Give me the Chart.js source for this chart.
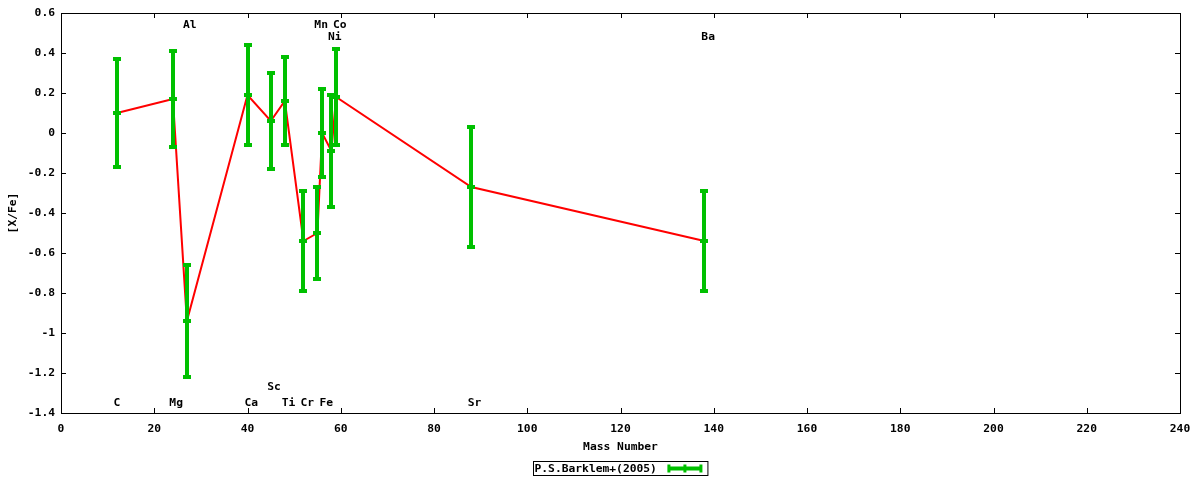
<!DOCTYPE html>
<html>
<head>
<meta charset="utf-8">
<script src="https://cdn.jsdelivr.net/npm/chart.js@4.4.1/dist/chart.umd.min.js"></script>
<style>
  html, body { margin: 0; padding: 0; background: #fff; }
  #wrap { width: 1200px; height: 480px; }
</style>
</head>
<body>
<div id="wrap"><canvas id="abundChart"></canvas></div>
<script>
// [X/Fe] vs mass number, P.S.Barklem+(2005)
const elements = ['C', 'Mg', 'Al', 'Ca', 'Sc', 'Ti', 'Cr', 'Mn', 'Fe', 'Ni', 'Co', 'Sr', 'Ba'];
const massNumbers = [12, 24, 27, 40, 45, 48, 52, 55, 56, 58, 59, 88, 138];
const xFe = [0.10, 0.17, -0.94, 0.19, 0.06, 0.16, -0.54, -0.50, 0.00, -0.09, 0.18, -0.27, -0.54];
const xFeErr = [0.27, 0.24, 0.28, 0.25, 0.24, 0.22, 0.25, 0.23, 0.22, 0.28, 0.24, 0.30, 0.25];
// where each element name is written (data units)
const nameX = [12.0, 24.7, 27.6, 40.8, 45.7, 48.8, 52.8, 55.8, 56.9, 58.7, 59.8, 88.7, 138.8];
const nameY = [-1.35, -1.35, 0.54, -1.35, -1.27, -1.35, -1.35, 0.54, -1.35, 0.48, 0.54, -1.35, 0.48];

const xTicks = [0, 20, 40, 60, 80, 100, 120, 140, 160, 180, 200, 220, 240];
const yTicks = [0.6, 0.4, 0.2, 0, -0.2, -0.4, -0.6, -0.8, -1, -1.2, -1.4];

const seriesName = 'P.S.Barklem+(2005)';
const GREEN = '#00c000';
const FONT = "bold 11.3px 'DejaVu Sans Mono', monospace";

Chart.defaults.font.family = "'DejaVu Sans Mono', monospace";
Chart.defaults.font.size = 11.3;
Chart.defaults.font.weight = 'bold';
Chart.defaults.color = '#000';

const points = massNumbers.map((m, i) => ({ x: m, y: xFe[i] }));

// frame with inward ticks on all four sides
const framePlugin = {
  id: 'frame',
  beforeDatasetsDraw(chart) {
    const { ctx, chartArea: a, scales } = chart;
    ctx.save();
    ctx.strokeStyle = '#000';
    ctx.lineWidth = 1;
    ctx.beginPath();
    xTicks.forEach(v => {
      const px = Math.round(scales.x.getPixelForValue(v)) + 0.5;
      ctx.moveTo(px, a.bottom); ctx.lineTo(px, a.bottom - 5);
      ctx.moveTo(px, a.top); ctx.lineTo(px, a.top + 5);
    });
    yTicks.forEach(v => {
      const py = Math.round(scales.y.getPixelForValue(v)) + 0.5;
      ctx.moveTo(a.left, py); ctx.lineTo(a.left + 5, py);
      ctx.moveTo(a.right, py); ctx.lineTo(a.right - 5, py);
    });
    ctx.stroke();
    ctx.strokeRect(a.left + 0.5, a.top + 0.5, a.right - a.left, a.bottom - a.top);
    ctx.restore();
  }
};

// vertical error bars + element names + key
const errorBarPlugin = {
  id: 'errorBars',
  afterDatasetsDraw(chart) {
    const { ctx, scales } = chart;
    const xs = scales.x, ys = scales.y;
    ctx.save();
    ctx.strokeStyle = GREEN;
    ctx.lineWidth = 4;
    ctx.lineCap = 'butt';
    massNumbers.forEach((m, i) => {
      const px = Math.round(xs.getPixelForValue(m));
      const yc = ys.getPixelForValue(xFe[i]);
      const yt = ys.getPixelForValue(xFe[i] + xFeErr[i]);
      const yb = ys.getPixelForValue(xFe[i] - xFeErr[i]);
      ctx.beginPath();
      ctx.moveTo(px, yt); ctx.lineTo(px, yb);
      [yt, yc, yb].forEach(y => { ctx.moveTo(px - 4, y); ctx.lineTo(px + 4, y); });
      ctx.stroke();
    });

    ctx.font = FONT;
    ctx.fillStyle = '#000';
    ctx.textAlign = 'center';
    ctx.textBaseline = 'middle';
    elements.forEach((el, i) => {
      ctx.fillText(el, xs.getPixelForValue(nameX[i]), ys.getPixelForValue(nameY[i]));
    });

    // key box under the axis title
    const cx = (chart.chartArea.left + chart.chartArea.right) / 2;
    const tw = ctx.measureText(seriesName).width;
    const boxW = tw + 52;
    const bx = Math.round(cx - boxW / 2) + 0.5;
    const by = 461.5;
    ctx.strokeStyle = '#000';
    ctx.lineWidth = 1;
    ctx.strokeRect(bx, by, boxW, 14);
    ctx.textAlign = 'left';
    ctx.fillText(seriesName, bx + 1, by + 7.5);
    const sx0 = bx + boxW - 40, sx1 = bx + boxW - 6, sy = by + 7;
    ctx.strokeStyle = GREEN;
    ctx.lineWidth = 4;
    ctx.beginPath();
    ctx.moveTo(sx0, sy); ctx.lineTo(sx1, sy);
    ctx.stroke();
    ctx.lineWidth = 3;
    ctx.beginPath();
    [sx0 + 1, (sx0 + sx1) / 2, sx1 - 1].forEach(x => { ctx.moveTo(x, sy - 4); ctx.lineTo(x, sy + 4); });
    ctx.stroke();
    ctx.restore();
  }
};

new Chart(document.getElementById('abundChart'), {
  type: 'line',
  data: {
    datasets: [{
      label: seriesName,
      data: points,
      borderColor: '#ff0000',
      borderWidth: 2,
      pointRadius: 0,
      tension: 0,
      fill: false
    }]
  },
  options: {
    responsive: true,
    maintainAspectRatio: false,
    animation: false,
    layout: { padding: { left: 0, right: 20, top: 13, bottom: 0 } },
    plugins: {
      legend: { display: false },
      tooltip: { enabled: false }
    },
    scales: {
      x: {
        type: 'linear',
        min: 0,
        max: 240,
        afterBuildTicks: s => { s.ticks = xTicks.map(v => ({ value: v })); },
        afterFit: s => { s.height = 67; },
        grid: { display: false, drawTicks: false },
        border: { display: false },
        ticks: { padding: 9, maxRotation: 0, autoSkip: false },
        title: { display: true, text: 'Mass Number', padding: { top: 0, bottom: 26 } }
      },
      y: {
        min: -1.4,
        max: 0.6,
        afterBuildTicks: s => { s.ticks = yTicks.map(v => ({ value: v })); },
        afterFit: s => { s.width = 61; },
        grid: { display: false, drawTicks: false },
        border: { display: false },
        ticks: {
          padding: 6,
          autoSkip: false,
          callback: v => String(Number(v.toFixed(1)))
        },
        title: { display: true, text: '[X/Fe]', padding: { top: 6, bottom: 0 } }
      }
    }
  },
  plugins: [framePlugin, errorBarPlugin]
});
</script>
</body>
</html>
